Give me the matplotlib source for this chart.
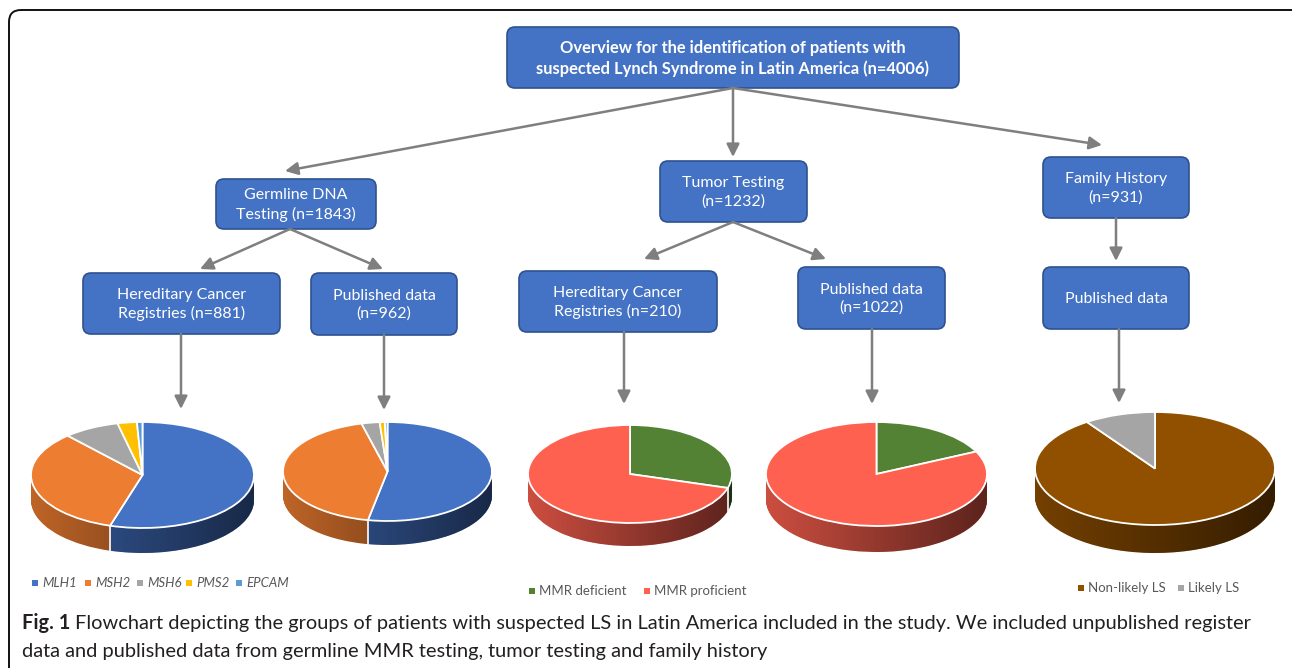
import numpy as np
import matplotlib.pyplot as plt
from matplotlib.patches import FancyBboxPatch, PathPatch
from matplotlib.path import Path

plt.rcParams['font.family'] = ['Lato', 'DejaVu Sans']

# Datos de los gráficos de torta (porcentajes)
germline_labels = ['MLH1', 'MSH2', 'MSH6', 'PMS2', 'EPCAM']
germline_colors = ['#4472C4', '#ED7D31', '#A5A5A5', '#FFC000', '#5B9BD5']
registry_germline = [54.7, 33.6, 8.1, 2.8, 0.8]
published_germline = [53.0, 43.0, 2.8, 0.8, 0.4]

tumor_labels = ['MMR deficient', 'MMR proficient']
tumor_colors = ['#548235', '#FF6150']
registry_tumor = [29.6, 70.4]
published_tumor = [17.9, 82.1]

family_labels = ['Non-likely LS', 'Likely LS']
family_colors = ['#915000', '#A5A5A5']
family_history = [90.4, 9.6]

W, H = 1292, 668
BOX_FC = '#4472C4'
BOX_EC = '#2F528F'
ARROW = '#7F7F7F'

fig = plt.figure(figsize=(W / 100, H / 100), dpi=100)
ax = fig.add_axes([0, 0, 1, 1])
ax.set_xlim(0, W)
ax.set_ylim(H, 0)
ax.axis('off')

# marco exterior
ax.add_patch(FancyBboxPatch((9, 10), 1310, 690, boxstyle='round,pad=0,rounding_size=12',
                            fc='none', ec='#111111', lw=1.4))


def caja(x0, y0, x1, y1, texto, bold=False):
    ax.add_patch(FancyBboxPatch((x0, y0), x1 - x0, y1 - y0,
                                boxstyle='round,pad=0,rounding_size=8',
                                fc=BOX_FC, ec=BOX_EC, lw=1.2))
    ax.text((x0 + x1) / 2, (y0 + y1) / 2 + 1, texto, ha='center', va='center',
            color='white', fontsize=11.9 if bold else 11.5, linespacing=1.35,
            fontweight='bold' if bold else 'normal')


def flecha(x0, y0, x1, y1):
    ax.annotate('', xy=(x1, y1), xytext=(x0, y0),
                arrowprops=dict(arrowstyle='-|>', color=ARROW, lw=1.8,
                                mutation_scale=19, shrinkA=0, shrinkB=0))


caja(507, 27, 959, 88, 'Overview for the identification of patients with\n'
     'suspected Lynch Syndrome in Latin America (n=4006)', bold=True)
caja(216, 179, 376, 229, 'Germline DNA\nTesting (n=1843)')
caja(83, 273, 280, 334, 'Hereditary Cancer\nRegistries (n=881)')
caja(311, 273, 457, 335, 'Published data\n(n=962)')
caja(660, 161, 807, 222, 'Tumor Testing\n(n=1232)')
caja(519, 271, 717, 332, 'Hereditary Cancer\nRegistries (n=210)')
caja(798, 267, 945, 329, 'Published data\n(n=1022)')
caja(1043, 157, 1189, 218, 'Family History\n(n=931)')
caja(1043, 267, 1189, 329, 'Published data')

flecha(733, 88, 285, 171)
flecha(733, 88, 733, 157)
flecha(733, 88, 1102, 145)
flecha(290, 229, 200, 269)
flecha(290, 229, 383, 269)
flecha(733, 222, 644, 259)
flecha(733, 222, 826, 259)
flecha(1116, 218, 1116, 261)
flecha(181, 334, 181, 409)
flecha(384, 335, 384, 410)
flecha(624, 332, 624, 404)
flecha(872, 329, 872, 404)
flecha(1119, 329, 1119, 403)


def oscurecer(c, f):
    r, g, b = plt.matplotlib.colors.to_rgb(c)
    return (r * f, g * f, b * f)


def torta3d(valores, colores, cx, cy, a, b, prof):
    pax = fig.add_axes([(cx - a) / W, 1 - (cy + b + prof) / H,
                        2 * a / W, (2 * b + prof) / H])
    D = prof / b
    lados = [oscurecer(c, 0.8) for c in colores]
    # costado: capas apiladas de abajo hacia arriba
    for t in np.linspace(D, 0, 40):
        wedges, _ = pax.pie(valores, colors=lados, startangle=90, counterclock=False,
                            center=(0, -t), radius=1, wedgeprops=dict(linewidth=0))
        for w in wedges:
            w.set_zorder(1)
            w.set_clip_on(False)
    # sombreado horizontal del costado
    tt = np.linspace(np.pi, 2 * np.pi, 100)
    verts = np.concatenate([np.c_[np.cos(tt), np.sin(tt)],
                            np.c_[np.cos(tt[::-1]), np.sin(tt[::-1]) - D]])
    contorno = PathPatch(Path(verts, closed=False), transform=pax.transData,
                         fc='none', ec='none')
    pax.add_patch(contorno)
    grad = np.zeros((1, 256, 4))
    grad[0, :, 3] = np.linspace(0.0, 0.55, 256)
    im = pax.imshow(grad, extent=(-1, 1, -1 - D, 0), aspect='auto',
                    interpolation='bilinear', zorder=1.5)
    im.set_clip_path(contorno)
    # líneas blancas entre porciones en el costado
    frac = np.cumsum(valores) / np.sum(valores)
    for f in frac[:-1]:
        th = 2 * np.pi * f
        if np.cos(th) < 0:
            pax.plot([np.sin(th)] * 2, [np.cos(th), np.cos(th) - D],
                     color='white', lw=1.2, zorder=1.8, clip_on=False)
    # cara superior
    wedges, _ = pax.pie(valores, colors=colores, startangle=90, counterclock=False,
                        radius=1, wedgeprops=dict(edgecolor='white', linewidth=1.3))
    for w in wedges:
        w.set_zorder(2)
        w.set_clip_on(False)
    pax.set_aspect('auto')
    pax.set_xlim(-1, 1)
    pax.set_ylim(-1 - D, 1)
    pax.axis('off')


torta3d(registry_germline, germline_colors, 142.5, 475, 111.5, 53, 25)
torta3d(published_germline, germline_colors, 387.5, 471.5, 104.5, 49.5, 24)
torta3d(registry_tumor, tumor_colors, 630, 474, 102, 49, 23)
torta3d(published_tumor, tumor_colors, 876.5, 474, 110.5, 52, 26)
torta3d(family_history, family_colors, 1155, 468.5, 120, 56.5, 28)


def leyenda(xs, y, etiquetas, colores, italic=False):
    for x, lab, c in zip(xs, etiquetas, colores):
        ax.scatter([x], [y], marker='s', s=18, color=c, linewidths=0)
        ax.text(x + 7, y, lab, va='center', ha='left', fontsize=9.5, color='#595959',
                style='italic' if italic else 'normal')


leyenda([35, 88, 140, 189, 239], 583, germline_labels, germline_colors, italic=True)
leyenda([532, 647], 591, tumor_labels, tumor_colors)
leyenda([1081, 1181], 588, family_labels, family_colors)

# pie de figura
t1 = ax.text(22, 623, 'Fig. 1', fontsize=14.4, fontweight='bold', color='#231F20',
             va='center', ha='left')
fig.canvas.draw()
bb = t1.get_window_extent()
ax.text(bb.x1 + 5, 623, 'Flowchart depicting the groups of patients with suspected LS in '
        'Latin America included in the study. We included unpublished register',
        fontsize=14.4, color='#231F20', va='center', ha='left')
ax.text(22, 651, 'data and published data from germline MMR testing, tumor testing and '
        'family history', fontsize=14.4, color='#231F20', va='center', ha='left')

fig.savefig('out.png', dpi=100)
